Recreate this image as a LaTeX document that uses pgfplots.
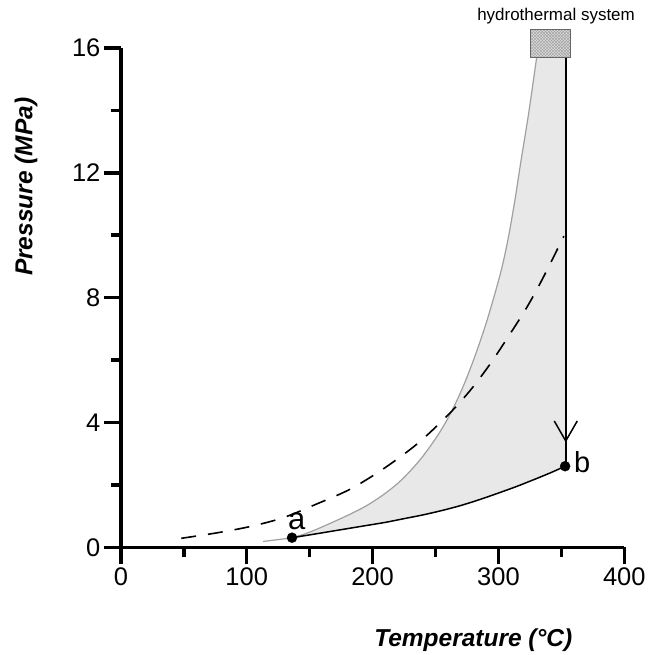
\documentclass[border=0pt]{standalone}
\usepackage{pgfplots}
\pgfplotsset{compat=1.18}
\usepackage{fontspec}
\setmainfont{Liberation Sans}
\usetikzlibrary{arrows.meta,patterns}
\definecolor{fillgray}{HTML}{E8E8E8}
\definecolor{linegray}{HTML}{A0A0A0}
\newcommand{\tl}[1]{\fontsize{25.5}{30}\selectfont #1}
\begin{document}
\begin{tikzpicture}
\begin{axis}[
 width=504pt, height=500pt, scale only axis,
 xmin=0,xmax=400,ymin=0,ymax=16,
 axis x line*=bottom, axis y line*=left,
 axis line style={line width=3.5pt,-},
 xtick={0,100,200,300,400}, ytick={0,4,8,12,16},
 xticklabels={\tl{0},\tl{100},\tl{200},\tl{300},\tl{400}},
 yticklabels={\tl{0},\tl{4},\tl{8},\tl{12},\tl{16}},
 minor xtick={50,150,250,350}, minor ytick={2,6,10,14},
 tick align=outside,
 major tick length=17pt, minor tick length=10pt,
 every tick/.style={line width=3.5pt, black},
 every major tick/.style={line width=3.5pt, black},
 every minor tick/.style={line width=3.5pt, black},
 xlabel={Temperature (°C)}, ylabel={Pressure (MPa)},
 label style={font=\fontsize{24.5}{28}\selectfont\bfseries\itshape},
 xlabel style={at={(axis description cs:0.70,-0.186)},anchor=center},
 ylabel style={at={(axis description cs:-0.1885,0.722)},anchor=center},
 clip=false,
]
% bounding box matching the reference proportions
\path (axis cs:-96.03,17.536) rectangle (axis cs:423.0,-3.424);

% shaded field
\addplot[draw=none, fill=fillgray] coordinates {
(136,0.31)(146,0.43)(155,0.57)(168,0.80)(182,1.06)(195,1.33)(208,1.67)(220,2.05)(230,2.45)(240,2.92)(250,3.48)(258,4.0)(266,4.62)(274,5.35)(282,6.2)(290,7.15)(297,8.1)(303,9.0)(308,9.95)(313,11.1)(318,12.4)(324,13.9)(330.4,15.7)
(353.5,15.7)(353.5,2.6)
(342,2.4)(330,2.2)(315,1.96)(300,1.74)(285,1.53)(270,1.34)(255,1.18)(240,1.04)(225,0.92)(210,0.80)(195,0.70)(180,0.60)(165,0.50)(150,0.40)(136,0.31)
} -- cycle;

% upper (grey) boundary
\addplot[linegray, line width=1.2pt, smooth] coordinates {
(113,0.19)(125,0.25)(136,0.31)(146,0.43)(155,0.57)(168,0.80)(182,1.06)(195,1.33)(208,1.67)(220,2.05)(230,2.45)(240,2.92)(250,3.48)(258,4.0)(266,4.62)(274,5.35)(282,6.2)(290,7.15)(297,8.1)(303,9.0)(308,9.95)(313,11.1)(318,12.4)(324,13.9)(330.4,15.7)
};

% lower (black) boundary a -> b
\addplot[black, line width=1.5pt, smooth] coordinates {
(136,0.31)(150,0.40)(165,0.50)(180,0.60)(195,0.70)(210,0.80)(225,0.92)(240,1.04)(255,1.18)(270,1.34)(285,1.53)(300,1.74)(315,1.96)(330,2.2)(342,2.4)(353,2.6)
};

% dashed curve
\addplot[black, line width=1.6pt, smooth, dash pattern=on 15pt off 12pt] coordinates {
(48,0.29)(77,0.47)(103,0.67)(129,0.95)(155,1.38)(182,1.86)(208,2.5)(235,3.3)(259,4.2)(277,5.0)(293,5.85)(307,6.7)(322,7.65)(335,8.6)(352,9.97)
};

% vertical path from hydrothermal system to b
\addplot[black, line width=1.5pt] coordinates {(353.5,15.7)(353.5,2.6)};
\addplot[black, line width=1.5pt, -{Straight Barb[length=20pt,width=23pt,line width=1.5pt]}] coordinates {(353.5,4.3)(353.5,3.36)};

% hydrothermal system box
\addplot[draw=gray!80!black, line width=0.8pt, fill=gray!30, postaction={pattern=crosshatch, pattern color=gray!75}] coordinates {(325.4,15.7)(357,15.7)(357,16.6)(325.4,16.6)} -- cycle;
\node[font=\fontsize{17}{20}\selectfont] at (axis cs:345.8,17.02) {hydrothermal system};

% points a and b
\addplot[only marks, mark=*, mark size=5pt, black] coordinates {(136,0.31)(353,2.6)};
\node[font=\fontsize{31}{34}\selectfont] at (axis cs:139.7,0.82) {a};
\node[font=\fontsize{29}{32}\selectfont] at (axis cs:366.5,2.74) {b};
\end{axis}
\end{tikzpicture}
\end{document}
